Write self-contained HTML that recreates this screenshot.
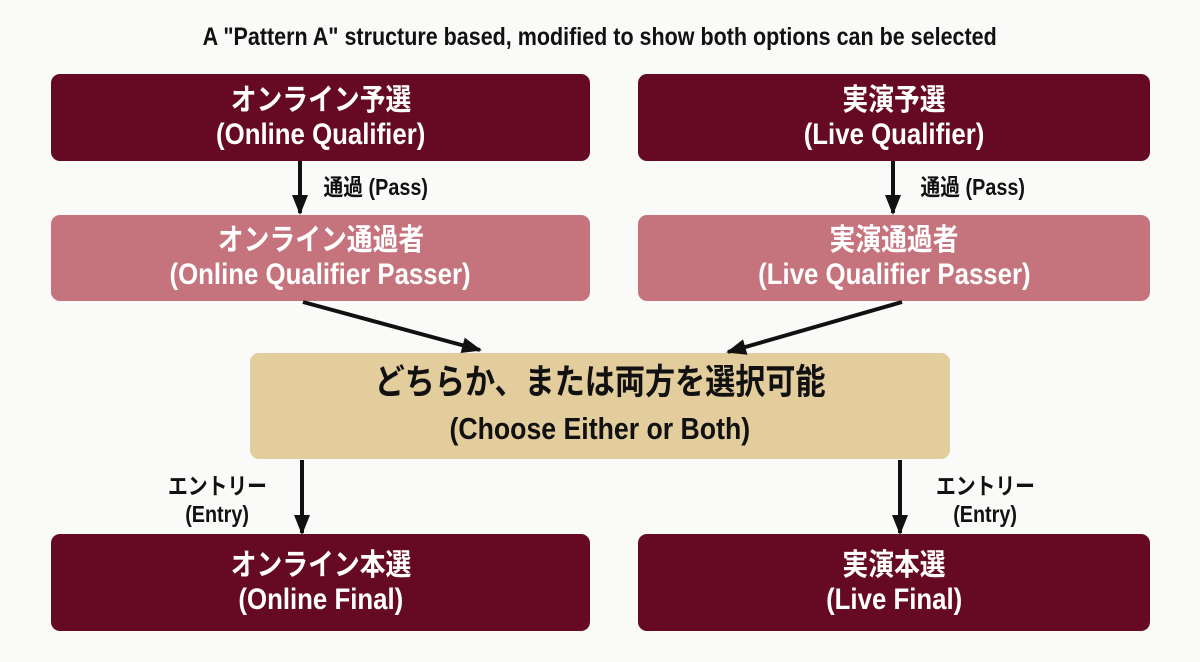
<!DOCTYPE html>
<html><head><meta charset="utf-8"><style>
body{margin:0;width:1200px;height:662px;background:#fafaf8;position:relative;overflow:hidden;font-family:"Liberation Sans","Noto Sans CJK JP",sans-serif;font-weight:bold}
.b{position:absolute;border-radius:9px;display:flex;flex-direction:column;align-items:center;justify-content:center;color:#fff;font-size:30px;line-height:34px;text-align:center}
.b div,.l span{display:inline-block;transform:scaleX(0.86)}
.d{background:#650a22}.p{background:#c5737c}.t{background:#e3cd9c;color:#111}
.l{position:absolute;font-size:23px;color:#111;text-align:center;line-height:28px}
</style></head><body>
<div class="l" style="left:0;width:1200px;top:23px;font-size:25px"><span>A "Pattern A" structure based, modified to show both options can be selected</span></div>
<div class="b d" style="left:51px;top:74px;width:539px;height:87px"><div>オンライン予選</div><div>(Online Qualifier)</div></div>
<div class="b d" style="left:638px;top:74px;width:512px;height:87px"><div>実演予選</div><div>(Live Qualifier)</div></div>
<div class="b p" style="left:51px;top:215px;width:539px;height:86px"><div>オンライン通過者</div><div>(Online Qualifier Passer)</div></div>
<div class="b p" style="left:638px;top:215px;width:512px;height:86px"><div>実演通過者</div><div>(Live Qualifier Passer)</div></div>
<div class="b t" style="left:250px;top:353px;width:700px;height:106px;font-size:35px;line-height:46px"><div>どちらか、または両方を選択可能</div><div style="font-size:31px">(Choose Either or Both)</div></div>
<div class="b d" style="left:51px;top:534px;width:539px;height:97px"><div>オンライン本選</div><div>(Online Final)</div></div>
<div class="b d" style="left:638px;top:534px;width:512px;height:97px"><div>実演本選</div><div>(Live Final)</div></div>
<div class="l" style="left:306px;top:173px;width:140px"><span>通過 (Pass)</span></div>
<div class="l" style="left:903px;top:173px;width:140px"><span>通過 (Pass)</span></div>
<div class="l" style="left:152px;top:472px;width:130px"><span>エントリー</span><br><span>(Entry)</span></div>
<div class="l" style="left:920px;top:472px;width:130px"><span>エントリー</span><br><span>(Entry)</span></div>
<svg width="1200" height="662" style="position:absolute;left:0;top:0">
<defs><marker id="a" markerWidth="20" markerHeight="20" refX="18" refY="10" orient="auto" markerUnits="userSpaceOnUse" viewBox="0 0 20 20"><path d="M0,2L20,10L0,18z" fill="#111"/></marker></defs>
<g stroke="#111" stroke-width="4" fill="none">
<line x1="300" y1="161" x2="300" y2="213" marker-end="url(#a)"/>
<line x1="893" y1="161" x2="893" y2="213" marker-end="url(#a)"/>
<line x1="303" y1="302" x2="480" y2="350" marker-end="url(#a)"/>
<line x1="902" y1="302" x2="728" y2="352" marker-end="url(#a)"/>
<line x1="302" y1="460" x2="302" y2="533" marker-end="url(#a)"/>
<line x1="900" y1="460" x2="900" y2="533" marker-end="url(#a)"/>
</g></svg>
</body></html>
